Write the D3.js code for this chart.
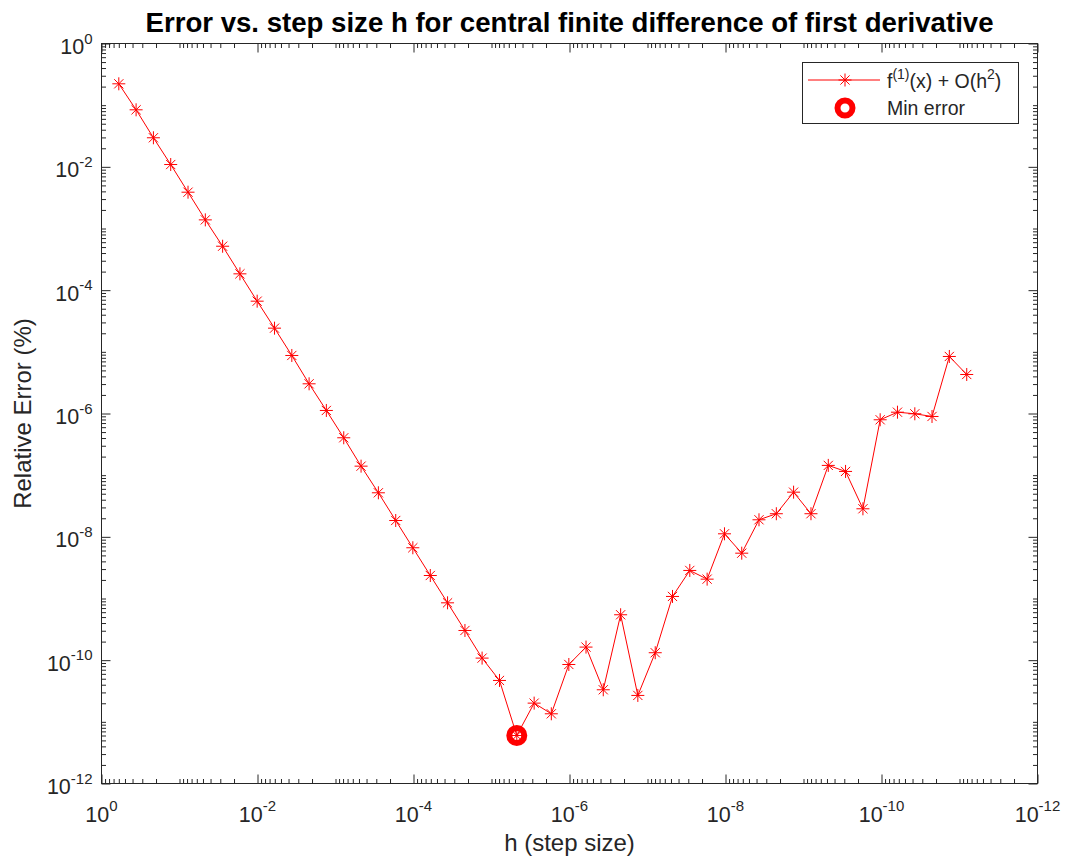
<!DOCTYPE html>
<html>
<head>
<meta charset="utf-8">
<script src="https://cdn.jsdelivr.net/npm/d3@7"></script>
<style>
body { margin: 0; background: #fff; }
text { font-family: "Liberation Sans", Arial, sans-serif; fill: #262626; }
</style>
</head>
<body>
<div class="chart"></div>
<script>
// step sizes h (0.6^k, k = 1..50)
var stepSizes = [
    0.6, 0.36, 0.216, 0.1296, 0.07776, 0.046656, 2.80e-2, 1.68e-2, 1.01e-2, 6.05e-3,
    3.63e-3, 2.18e-3, 1.31e-3, 7.84e-4, 4.70e-4, 2.82e-4, 1.69e-4, 1.02e-4, 6.09e-5, 3.66e-5,
    2.19e-5, 1.32e-5, 7.90e-6, 4.74e-6, 2.84e-6, 1.71e-6, 1.02e-6, 6.14e-7, 3.69e-7, 2.21e-7,
    1.33e-7, 7.96e-8, 4.78e-8, 2.87e-8, 1.72e-8, 1.03e-8, 6.19e-9, 3.72e-9, 2.23e-9, 1.34e-9,
    8.02e-10, 4.81e-10, 2.89e-10, 1.73e-10, 1.04e-10, 6.24e-11, 3.74e-11, 2.25e-11, 1.35e-11, 8.08e-12
]

// relative error (%)
var relErrors = [
    0.222, 0.0841, 0.0296, 0.0109, 3.88e-3, 1.38e-3, 5.16e-4, 1.84e-4, 6.63e-5, 2.42e-5,
    8.73e-6, 3.03e-6, 1.12e-6, 4.04e-7, 1.40e-7, 5.18e-8, 1.84e-8, 6.65e-9, 2.36e-9, 8.51e-10,
    3.03e-10, 1.08e-10, 4.69e-11, 6.0e-12, 2.01e-11, 1.35e-11, 8.51e-11, 1.63e-10, 3.31e-11, 5.45e-10,
    2.68e-11, 1.32e-10, 1.08e-9, 2.85e-9, 2.06e-9, 1.12e-8, 5.43e-9, 1.89e-8, 2.37e-8, 5.30e-8,
    2.37e-8, 1.44e-7, 1.15e-7, 2.85e-8, 7.91e-7, 1.05e-6, 9.89e-7, 8.95e-7, 8.41e-6, 4.29e-6
]

var xTickExps = ["0", "-2", "-4", "-6", "-8", "-10", "-12"]
var yTickExps = ["-12", "-10", "-8", "-6", "-4", "-2", "0"]

var width = 1071, height = 858
var plotLeft = 101.5, plotRight = 1037.5, plotTop = 43.5, plotBottom = 783.5

var svg = d3.select(".chart")
    .append("svg")
    .attr("width", width)
    .attr("height", height)

svg.append("rect")
    .attr("width", width)
    .attr("height", height)
    .attr("fill", "white")

var x = d3.scaleLog().domain([1, 1e-12]).range([plotLeft, plotRight])
var y = d3.scaleLog().domain([1e-12, 1]).range([plotBottom, plotTop])

var majorX = xTickExps.map(function(e) { return Math.pow(10, +e) })
var majorY = yTickExps.map(function(e) { return Math.pow(10, +e) })

// minor ticks: 2..9 in every decade, plus the unlabelled odd decades
var minor = []
for (var d = -12; d < 0; d++) {
    for (var m = 2; m <= 9; m++) minor.push(m * Math.pow(10, d))
    if (d % 2 !== 0) minor.push(Math.pow(10, d))
}

function addTicks(axis, values, size, transform) {
    var g = svg.append("g")
        .attr("transform", transform)
        .call(axis.tickValues(values).tickSize(-size).tickFormat(""))
    g.select(".domain").remove()
    g.selectAll("line").attr("stroke", "#262626")
}

addTicks(d3.axisBottom(x), majorX, 9, "translate(0," + plotBottom + ")")
addTicks(d3.axisBottom(x), minor, 4.5, "translate(0," + plotBottom + ")")
addTicks(d3.axisTop(x), majorX, 9, "translate(0," + plotTop + ")")
addTicks(d3.axisTop(x), minor, 4.5, "translate(0," + plotTop + ")")
addTicks(d3.axisLeft(y), majorY, 9, "translate(" + plotLeft + ",0)")
addTicks(d3.axisLeft(y), minor, 4.5, "translate(" + plotLeft + ",0)")
addTicks(d3.axisRight(y), majorY, 9, "translate(" + plotRight + ",0)")
addTicks(d3.axisRight(y), minor, 4.5, "translate(" + plotRight + ",0)")

svg.append("rect")
    .attr("x", plotLeft)
    .attr("y", plotTop)
    .attr("width", plotRight - plotLeft)
    .attr("height", plotBottom - plotTop)
    .attr("fill", "none")
    .attr("stroke", "#262626")
    .attr("stroke-width", 1)

function powerLabel(sel, exp) {
    sel.append("tspan").text("10")
    sel.append("tspan")
        .attr("dy", -10.5)
        .style("font-size", "15px")
        .text(exp)
}

svg.selectAll(".xTickLabel")
    .data(xTickExps)
    .enter().append("text")
    .attr("class", "xTickLabel")
    .attr("x", function(d) { return x(Math.pow(10, +d)) })
    .attr("y", plotBottom + 38)
    .attr("text-anchor", "middle")
    .style("font-size", "21.5px")
    .each(function(d) { powerLabel(d3.select(this), d) })

svg.selectAll(".yTickLabel")
    .data(yTickExps)
    .enter().append("text")
    .attr("class", "yTickLabel")
    .attr("x", plotLeft - 9)
    .attr("y", function(d) { return y(Math.pow(10, +d)) + 10.5 })
    .attr("text-anchor", "end")
    .style("font-size", "21.5px")
    .each(function(d) { powerLabel(d3.select(this), d) })

// axis labels and title
svg.append("text")
    .attr("x", (plotLeft + plotRight) / 2)
    .attr("y", 851)
    .attr("text-anchor", "middle")
    .style("font-size", "24px")
    .text("h (step size)")

svg.append("text")
    .attr("transform", "translate(31," + (plotTop + plotBottom) / 2 + ") rotate(-90)")
    .attr("text-anchor", "middle")
    .style("font-size", "24px")
    .text("Relative Error (%)")

svg.append("text")
    .attr("x", (plotLeft + plotRight) / 2)
    .attr("y", 32)
    .attr("text-anchor", "middle")
    .style("font-size", "27.6px")
    .style("font-weight", "bold")
    .style("fill", "black")
    .text("Error vs. step size h for central finite difference of first derivative")

// data
var points = stepSizes.map(function(h, i) { return { h: h, err: relErrors[i] } })
var minPoint = points[d3.minIndex(points, function(p) { return p.err })]

var asterisk = "M-6.5,0H6.5M0,-6.5V6.5M-4.6,-4.6L4.6,4.6M-4.6,4.6L4.6,-4.6"

var line = d3.line()
    .x(function(d) { return x(d.h) })
    .y(function(d) { return y(d.err) })

svg.append("path")
    .datum(points)
    .attr("d", line)
    .attr("fill", "none")
    .attr("stroke", "red")
    .attr("stroke-width", 1)

svg.selectAll(".star")
    .data(points)
    .enter().append("path")
    .attr("class", "star")
    .attr("transform", function(d) { return "translate(" + x(d.h) + "," + y(d.err) + ")" })
    .attr("d", asterisk)
    .attr("fill", "none")
    .attr("stroke", "red")
    .attr("stroke-width", 1)

svg.append("circle")
    .attr("cx", x(minPoint.h))
    .attr("cy", y(minPoint.err))
    .attr("r", 7.5)
    .attr("fill", "none")
    .attr("stroke", "red")
    .attr("stroke-width", 6)

// legend
var legend = svg.append("g").attr("class", "legend")

legend.append("rect")
    .attr("x", 802.5)
    .attr("y", 62.5)
    .attr("width", 216)
    .attr("height", 61)
    .attr("fill", "white")
    .attr("stroke", "#262626")

legend.append("line")
    .attr("x1", 808)
    .attr("x2", 880)
    .attr("y1", 80)
    .attr("y2", 80)
    .attr("stroke", "red")

legend.append("path")
    .attr("transform", "translate(845,80)")
    .attr("d", asterisk)
    .attr("fill", "none")
    .attr("stroke", "red")

legend.append("circle")
    .attr("cx", 845)
    .attr("cy", 108)
    .attr("r", 7.5)
    .attr("fill", "none")
    .attr("stroke", "red")
    .attr("stroke-width", 6)

var entry1 = legend.append("text")
    .attr("x", 887)
    .attr("y", 88)
    .style("font-size", "19.5px")
entry1.append("tspan").text("f")
entry1.append("tspan").attr("dy", -9).style("font-size", "14px").text("(1)")
entry1.append("tspan").attr("dy", 9).text("(x) + O(h")
entry1.append("tspan").attr("dy", -9).style("font-size", "14px").text("2")
entry1.append("tspan").attr("dy", 9).text(")")

legend.append("text")
    .attr("x", 887)
    .attr("y", 115)
    .style("font-size", "19.5px")
    .text("Min error")
</script>
</body>
</html>
